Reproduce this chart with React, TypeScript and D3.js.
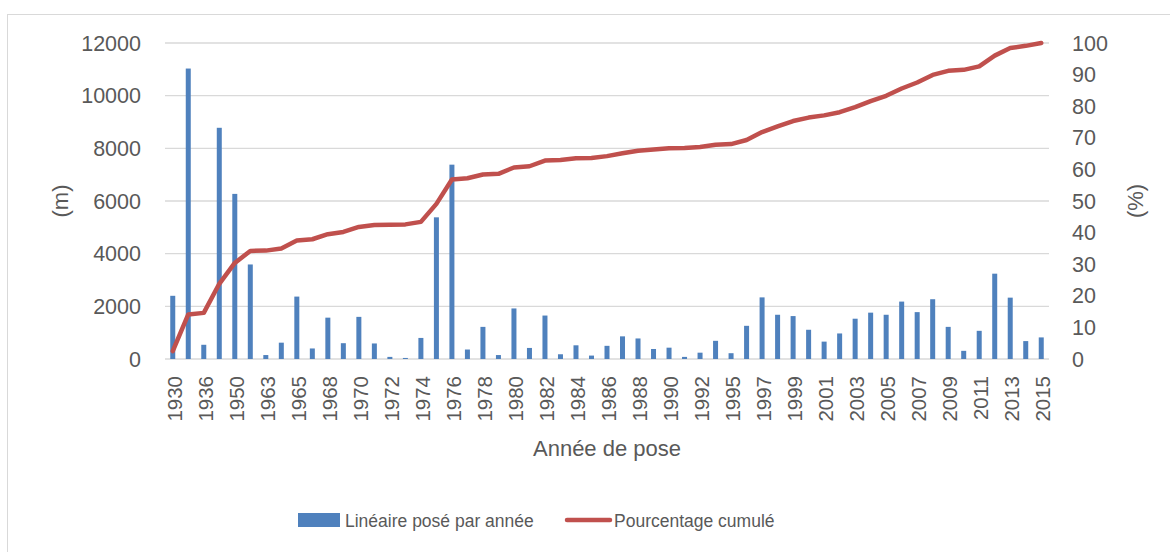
import React from "react";
import * as d3 from "d3";

const years: string[] = [
  "1930","1933","1936","1948","1950","1960","1963","1964","1965","1966",
  "1968","1969","1970","1971","1972","1973","1974","1975","1976","1977",
  "1978","1979","1980","1981","1982","1983","1984","1985","1986","1987",
  "1988","1989","1990","1991","1992","1993","1995","1996","1997","1998",
  "1999","2000","2001","2002","2003","2004","2005","2006","2007","2008",
  "2009","2010","2011","2012","2013","2014","2015",
];

const lengthPerYear: number[] = [
  2400, 11030, 540, 8780, 6270, 3590, 150, 620, 2370, 400,
  1570, 600, 1600, 590, 80, 40, 800, 5380, 7380, 360,
  1220, 150, 1920, 420, 1650, 180, 520, 130, 500, 860,
  780, 380, 430, 80, 240, 690, 220, 1260, 2340, 1680,
  1630, 1110, 660, 970, 1530, 1760, 1680, 2180, 1780, 2270,
  1220, 310, 1070, 3240, 2330, 680, 820,
];

const cumulativePct: number[] = [
  2.5, 14.1, 14.6, 23.8, 30.4, 34.2, 34.3, 35.0, 37.5, 37.9,
  39.5, 40.2, 41.8, 42.4, 42.5, 42.6, 43.4, 49.1, 56.8, 57.2,
  58.4, 58.6, 60.6, 61.0, 62.8, 63.0, 63.5, 63.6, 64.2, 65.1,
  65.9, 66.3, 66.7, 66.8, 67.1, 67.8, 68.0, 69.3, 71.8, 73.6,
  75.3, 76.4, 77.1, 78.1, 79.7, 81.6, 83.3, 85.6, 87.5, 89.9,
  91.2, 91.5, 92.6, 96.0, 98.4, 99.1, 100.0,
];

const leftTicks: number[] = [0, 2000, 4000, 6000, 8000, 10000, 12000];
const rightTicks: number[] = [0, 10, 20, 30, 40, 50, 60, 70, 80, 90, 100];

const seriesBarName = "Linéaire posé par année";
const seriesLineName = "Pourcentage cumulé";
const xTitle = "Année de pose";
const yLeftTitle = "(m)";
const yRightTitle = "(%)";

export default function App() {
  const W = 1170;
  const H = 552;
  const left = 165;
  const right = 1049;
  const top = 43;
  const bottom = 359;
  const font = "'Liberation Sans', Arial, sans-serif";
  const textColor = "#595959";

  const x = d3.scaleBand<string>().domain(years).range([left, right]).padding(0);
  const yL = d3.scaleLinear().domain([0, 12000]).range([bottom, top]);
  const yR = d3.scaleLinear().domain([0, 100]).range([bottom, top]);
  const barW = 5;
  const cx = (y: string) => (x(y) as number) + x.bandwidth() / 2;

  const line = d3
    .line<number>()
    .x((_, i) => cx(years[i]))
    .y((d) => yR(d))
    .curve(d3.curveLinear);

  return (
    <svg
      width={W}
      height={H}
      style={{ position: "absolute", left: 0, top: 0, background: "#fff" }}
      fontFamily={font}
    >
      <rect x={0} y={0} width={W} height={H} fill="#fff" />
      <rect x={7.5} y={14.5} width={W} height={H} fill="none" stroke="#d9d9d9" strokeWidth={1} />

      {leftTicks.map((t) => (
        <line key={"g" + t} x1={left} x2={right} y1={yL(t)} y2={yL(t)} stroke="#d9d9d9" strokeWidth={1.3} />
      ))}

      {lengthPerYear.map((v, i) => (
        <rect
          key={"b" + i}
          x={cx(years[i]) - barW / 2}
          y={yL(v)}
          width={barW}
          height={yL(0) - yL(v)}
          fill="#4f81bd"
        />
      ))}

      <path
        d={line(cumulativePct) || ""}
        fill="none"
        stroke="#c0504d"
        strokeWidth={4.5}
        strokeLinejoin="round"
        strokeLinecap="round"
      />

      {leftTicks.map((t) => (
        <text key={"lt" + t} x={141} y={yL(t)} dy="0.35em" textAnchor="end" fontSize={21.5} fill={textColor}>
          {t}
        </text>
      ))}
      {rightTicks.map((t) => (
        <text key={"rt" + t} x={1072} y={yR(t)} dy="0.35em" textAnchor="start" fontSize={21.5} fill={textColor}>
          {t}
        </text>
      ))}

      {years.map((y, i) =>
        i % 2 === 0 ? (
          <text
            key={"xt" + y}
            transform={`translate(${cx(y) + 2},${376}) rotate(-90)`}
            dy="0.35em"
            textAnchor="end"
            fontSize={20.5}
            fill={textColor}
          >
            {y}
          </text>
        ) : null
      )}

      <text x={(left + right) / 2} y={456} textAnchor="middle" fontSize={22} fill={textColor}>
        {xTitle}
      </text>
      <text
        transform={`translate(60,${(top + bottom) / 2}) rotate(-90)`}
        dy="0.35em"
        textAnchor="middle"
        fontSize={22}
        fill={textColor}
      >
        {yLeftTitle}
      </text>
      <text
        transform={`translate(1135,${(top + bottom) / 2}) rotate(-90)`}
        dy="0.35em"
        textAnchor="middle"
        fontSize={22}
        fill={textColor}
      >
        {yRightTitle}
      </text>

      <rect x={298} y={513} width={42} height={14} fill="#4f81bd" />
      <text x={345} y={527} fontSize={17.5} fill={textColor}>
        {seriesBarName}
      </text>
      <line x1={567} x2={610} y1={520} y2={520} stroke="#c0504d" strokeWidth={4.5} strokeLinecap="round" />
      <text x={614} y={527} fontSize={17.5} fill={textColor}>
        {seriesLineName}
      </text>
    </svg>
  );
}
